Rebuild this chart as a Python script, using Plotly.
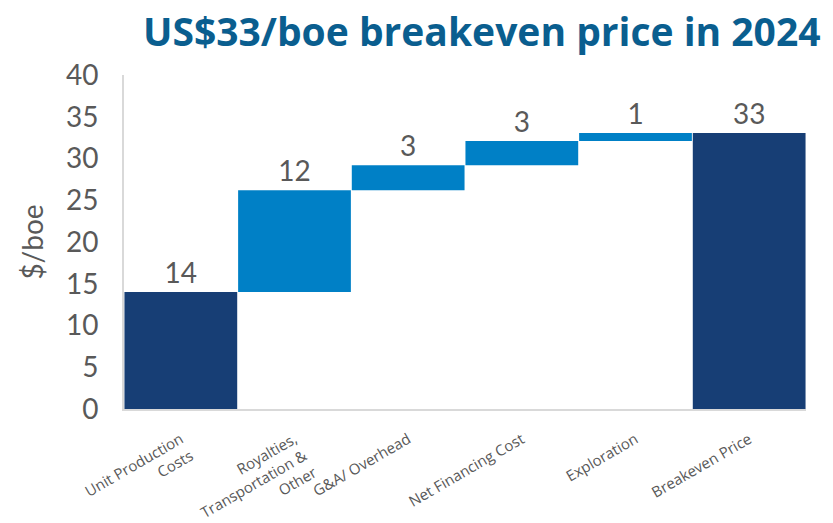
import plotly.graph_objects as go

categories = ["Unit Production<br>Costs", "Royalties,<br>Transportation &<br>Other",
              "G&A/ Overhead", "Net Financing Cost", "Exploration", "Breakeven Price"]
values = [14.0, 12.2, 3.0, 2.9, 0.95, None]
measures = ["absolute", "relative", "relative", "relative", "relative", "total"]

total = sum(v for v in values if v is not None)
labels = [f"{v:.0f}" if v is not None else f"{total:.0f}" for v in values]

NAVY = "#173e75"
BLUE = "#0080c6"
GRAY = "#595959"

fig = go.Figure(go.Waterfall(
    x=categories,
    y=values,
    measure=measures,
    text=labels,
    textposition="outside",
    textfont=dict(family="Lato", size=28, color=GRAY),
    increasing=dict(marker=dict(color=BLUE)),
    decreasing=dict(marker=dict(color=BLUE)),
    totals=dict(marker=dict(color=NAVY)),
    connector=dict(visible=False),
    cliponaxis=False,
))

# the page body adds an 8px offset; the figure is sized to fit inside the window
fig.update_layout(
    width=825, height=515,
    margin=dict(l=116, r=27, t=67, b=114),
    paper_bgcolor="white", plot_bgcolor="white",
    showlegend=False,
    waterfallgap=0.008,
    title=dict(text="<b>US$33/boe breakeven price in 2024</b>",
               font=dict(family="Open Sans", size=39, color="#0a5e8f"),
               xref="container", x=0.1636, xanchor="left",
               yref="container", y=0.953, yanchor="middle"),
    xaxis=dict(showline=True, linecolor="#d9d9d9", linewidth=2, automargin=False,
               tickangle=-30, ticks="", ticklabelstandoff=14,
               tickfont=dict(family="Open Sans", size=15, color=GRAY)),
    yaxis=dict(range=[0, 40], dtick=5, showgrid=False, zeroline=False,
               showline=True, linecolor="#d9d9d9", linewidth=2, automargin=False,
               ticks="", ticklabelstandoff=18,
               tickfont=dict(family="Lato", size=28, color=GRAY),
               title=dict(text="$/boe", font=dict(family="Lato", size=28, color=GRAY),
                          standoff=14)),
)

fig.write_html("out.html")
